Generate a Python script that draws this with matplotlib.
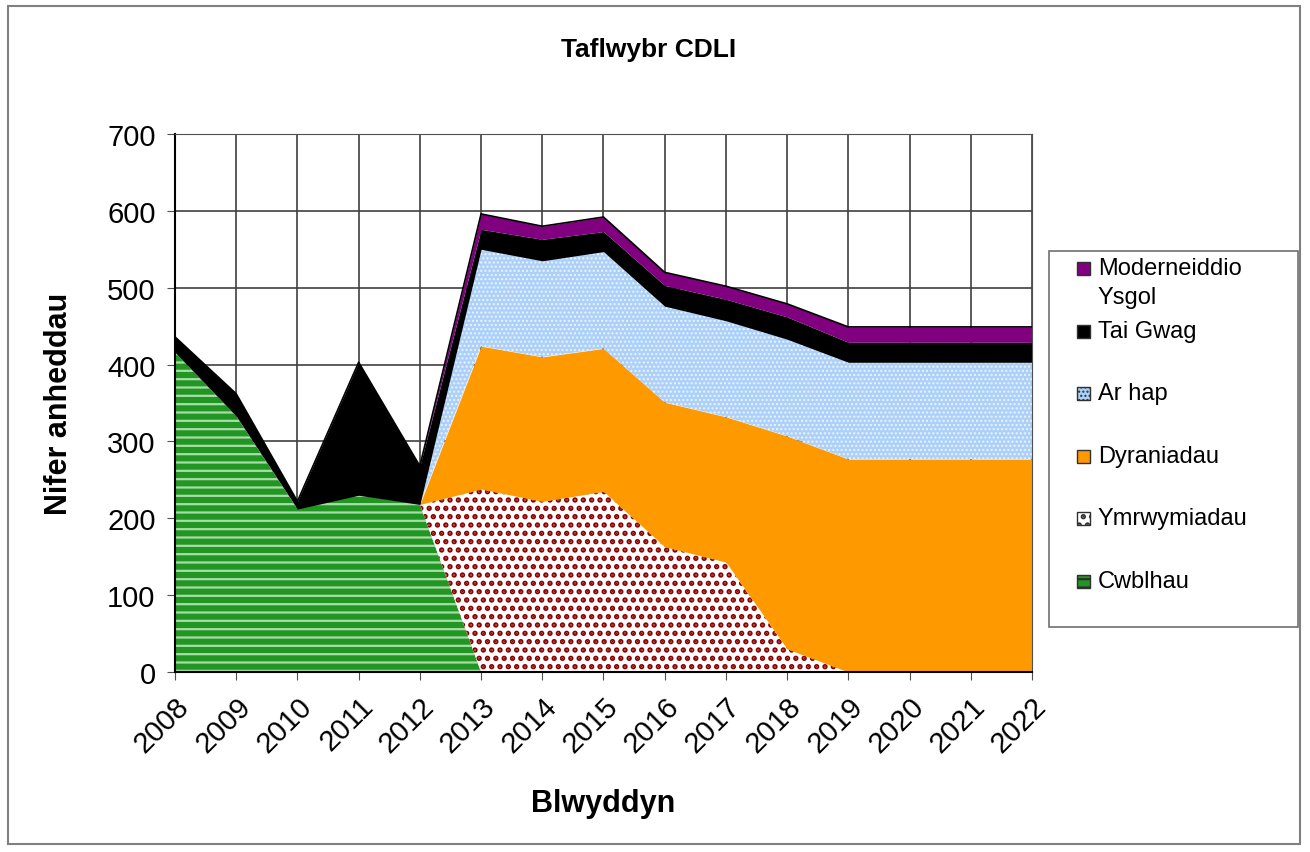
import matplotlib.pyplot as plt
import numpy as np
from matplotlib.patches import Rectangle

# Data
years = list(range(2008, 2023))
cwblhau = [416, 333, 212, 230, 218, 0, 0, 0, 0, 0, 0, 0, 0, 0, 0]
ymrwymiadau = [0, 0, 0, 0, 0, 238, 222, 235, 163, 143, 30, 0, 0, 0, 0]
dyraniadau = [0, 0, 0, 0, 0, 186, 188, 186, 188, 189, 277, 277, 277, 277, 277]
ar_hap = [0, 0, 0, 0, 0, 126, 125, 126, 125, 125, 126, 126, 126, 126, 126]
tai_gwag = [20, 29, 10, 173, 50, 26, 28, 26, 27, 28, 29, 26, 26, 26, 26]
moderneiddio = [0, 0, 0, 0, 0, 20, 17, 19, 17, 17, 17, 20, 20, 20, 20]

labels = ["Cwblhau", "Ymrwymiadau", "Dyraniadau", "Ar hap", "Tai Gwag",
          "Moderneiddio\nYsgol"]
series = [cwblhau, ymrwymiadau, dyraniadau, ar_hap, tai_gwag, moderneiddio]

# face colour, hatch, hatch colour, hatch line width for each series
styles = [
    ("#229622", "--", "#A8DCA8", 1.6),
    ("white", "..", "#8B0000", 2.6),
    ("#FF9900", None, "#FF9900", 1.0),
    ("#ADD0F8", "....", "#EAF4FF", 1.0),
    ("black", None, "black", 1.0),
    ("#800080", None, "#800080", 1.0),
]

W, H = 1310, 853
plt.rcParams['font.family'] = ['Liberation Sans', 'DejaVu Sans']

fig = plt.figure(figsize=(W / 100, H / 100), dpi=100)
ax = fig.add_axes([175 / W, 1 - 673 / H, (1032 - 175) / W, (673 - 135) / H])

# outer frame of the chart
fig.patches.append(Rectangle((8 / W, 8 / H), 1292 / W, 838 / H,
                             transform=fig.transFigure, fill=False,
                             edgecolor="#808080", linewidth=1.5))

bottom = np.zeros(len(years))
for vals, (fc, hatch, hc, hlw) in zip(series, styles):
    top = bottom + np.array(vals)
    with plt.rc_context({'hatch.linewidth': hlw}):
        ax.fill_between(years, bottom, top, facecolor=fc, hatch=hatch,
                        edgecolor=hc, linewidth=0, zorder=2)
    bottom = top

# thin outline along the top of the stack
ax.plot(years, bottom, color="black", linewidth=1.2, zorder=3)

ax.set_xlim(2008, 2022)
ax.set_ylim(0, 700)
ax.set_xticks(years)
ax.set_yticks(range(0, 701, 100))
ax.grid(True, color="#404040", linewidth=1.2, zorder=0)
ax.set_axisbelow(True)
for s in ax.spines.values():
    s.set_color("#505050")
ax.spines["left"].set_color("black")
ax.spines["bottom"].set_color("black")
ax.spines["left"].set_linewidth(1.5)
ax.spines["bottom"].set_linewidth(1.5)

ax.tick_params(axis="both", labelsize=21, direction="out", length=6,
               pad=8, color="#505050")
plt.setp(ax.get_xticklabels(), rotation=45, ha="right", rotation_mode="anchor")

fig.text(0.495, 1 - 50 / H, "Taflwybr CDLI", fontsize=19, fontweight="bold",
         ha="center", va="center")
ax.set_xlabel("Blwyddyn", fontsize=22, fontweight="bold", labelpad=22)
ax.set_ylabel("Nifer anheddau", fontsize=22, fontweight="bold", labelpad=24)

# legend drawn by hand to keep Excel's even spacing
fig.patches.append(Rectangle((1049 / W, 1 - 628 / H), 249 / W, 376 / H,
                             transform=fig.transFigure, facecolor="white",
                             edgecolor="#707070", linewidth=1.2))
y0, step = 269, 62.6
for i, (lab, (fc, hatch, hc, hlw)) in enumerate(zip(labels[::-1], styles[::-1])):
    yc = y0 + i * step
    with plt.rc_context({'hatch.linewidth': hlw}):
        fig.patches.append(Rectangle((1077 / W, 1 - (yc + 7) / H), 13 / W, 13 / H,
                                     transform=fig.transFigure, facecolor=fc,
                                     hatch=hatch, edgecolor="#303030", linewidth=1.0))
    fig.text(1098 / W, 1 - (yc - 11) / H, lab, fontsize=17, ha="left", va="top",
             linespacing=1.4)

fig.savefig("out.png", dpi=100)
